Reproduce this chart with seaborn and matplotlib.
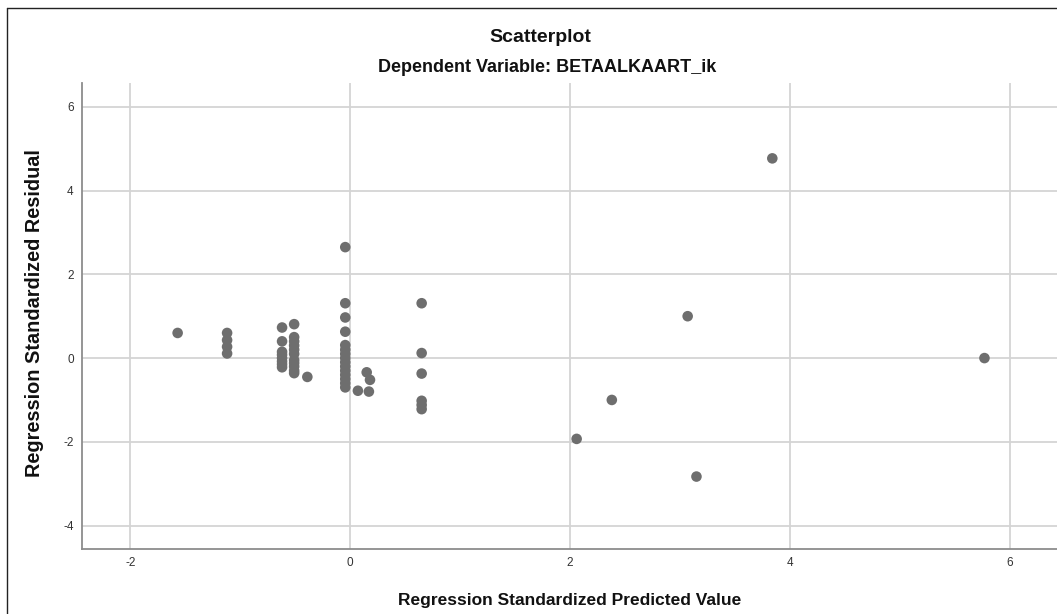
import matplotlib
matplotlib.use("Agg")
import matplotlib.pyplot as plt
import seaborn as sns
import pandas as pd
from matplotlib.lines import Line2D

# Data
predicted = [
    -1.57,
    -1.12, -1.12, -1.12, -1.12,
    -0.62, -0.62, -0.62, -0.62, -0.62, -0.62, -0.62, -0.62,
    -0.51, -0.51, -0.51, -0.51, -0.51, -0.51, -0.51, -0.51, -0.51, -0.51, -0.51,
    -0.39,
    -0.045, -0.045, -0.045, -0.045, -0.045, -0.045, -0.045, -0.045, -0.045,
    -0.045, -0.045, -0.045, -0.045, -0.045, -0.045,
    0.07, 0.15, 0.18, 0.17,
    0.65, 0.65, 0.65, 0.65, 0.65, 0.65,
    2.06, 2.38, 3.07, 3.15, 3.84, 5.77,
]
residual = [
    0.60,
    0.60, 0.43, 0.27, 0.11,
    0.73, 0.40, 0.15, 0.08, 0.00, -0.08, -0.15, -0.22,
    0.81, 0.50, 0.40, 0.30, 0.20, 0.10, -0.05, -0.12, -0.20, -0.30, -0.36,
    -0.45,
    2.65, 1.31, 0.97, 0.63, 0.31, 0.20, 0.10, 0.00, -0.10,
    -0.20, -0.30, -0.40, -0.50, -0.60, -0.70,
    -0.78, -0.34, -0.52, -0.80,
    1.31, 0.12, -0.37, -1.02, -1.12, -1.22,
    -1.93, -1.00, 1.00, -2.83, 4.77, 0.00,
]
x_ticks = [-2, 0, 2, 4, 6]
y_ticks = [-4, -2, 0, 2, 4, 6]

title = "Scatterplot"
subtitle = "Dependent Variable: BETAALKAART_ik"
x_label = "Regression Standardized Predicted Value"
y_label = "Regression Standardized Residual"

df = pd.DataFrame({"pred": predicted, "resid": residual})

sns.set_theme(style="white")
plt.rcParams["font.family"] = ["Liberation Sans", "DejaVu Sans"]

fig = plt.figure(figsize=(10.57, 6.14), dpi=100)
ax = fig.add_axes([82 / 1057, 1 - 549 / 614, 1 - 82 / 1057, (549 - 83) / 614])

ax.set_axisbelow(True)
ax.grid(True, color="#d4d4d4", linewidth=1.3)
sns.scatterplot(data=df, x="pred", y="resid", ax=ax, color="#6e6e6e",
                s=58, edgecolor="none", linewidth=0, zorder=3)

ax.set_xlim(-2.44, 6.43)
ax.set_ylim(-4.56, 6.57)
ax.set_xticks(x_ticks)
ax.set_yticks(y_ticks)
ax.set_xticklabels([str(v) for v in x_ticks])
ax.set_yticklabels([str(v) for v in y_ticks])
ax.tick_params(axis="both", length=0, labelsize=8.5, labelcolor="#333333")
ax.tick_params(axis="x", pad=6)
ax.tick_params(axis="y", pad=6)

for side in ["top", "right"]:
    ax.spines[side].set_visible(False)
for side in ["left", "bottom"]:
    ax.spines[side].set_color("#8c8c8c")
    ax.spines[side].set_linewidth(1.3)

ax.set_xlabel("")
ax.set_ylabel("")
fig.text(570 / 1057, 1 - 600 / 614, x_label, ha="center", va="center",
         fontsize=12.5, fontweight="bold", color="#111111")
fig.text(35 / 1057, 1 - 313 / 614, y_label, ha="center", va="center",
         rotation=90, fontsize=14.3, fontweight="bold", color="#111111")
fig.text(540 / 1057, 1 - 37 / 614, title, ha="center", va="center",
         fontsize=14, fontweight="bold", color="#111111")
fig.text(547 / 1057, 1 - 68 / 614, subtitle, ha="center", va="center",
         fontsize=13, fontweight="bold", color="#111111")

# outer frame (top and left edges visible)
fig.add_artist(Line2D([7 / 1057, 7 / 1057], [0, 1 - 8 / 614],
                      transform=fig.transFigure, color="#222222", linewidth=1))
fig.add_artist(Line2D([7 / 1057, 1], [1 - 8 / 614, 1 - 8 / 614],
                      transform=fig.transFigure, color="#222222", linewidth=1))

fig.savefig("out.png", dpi=100, facecolor="white")
